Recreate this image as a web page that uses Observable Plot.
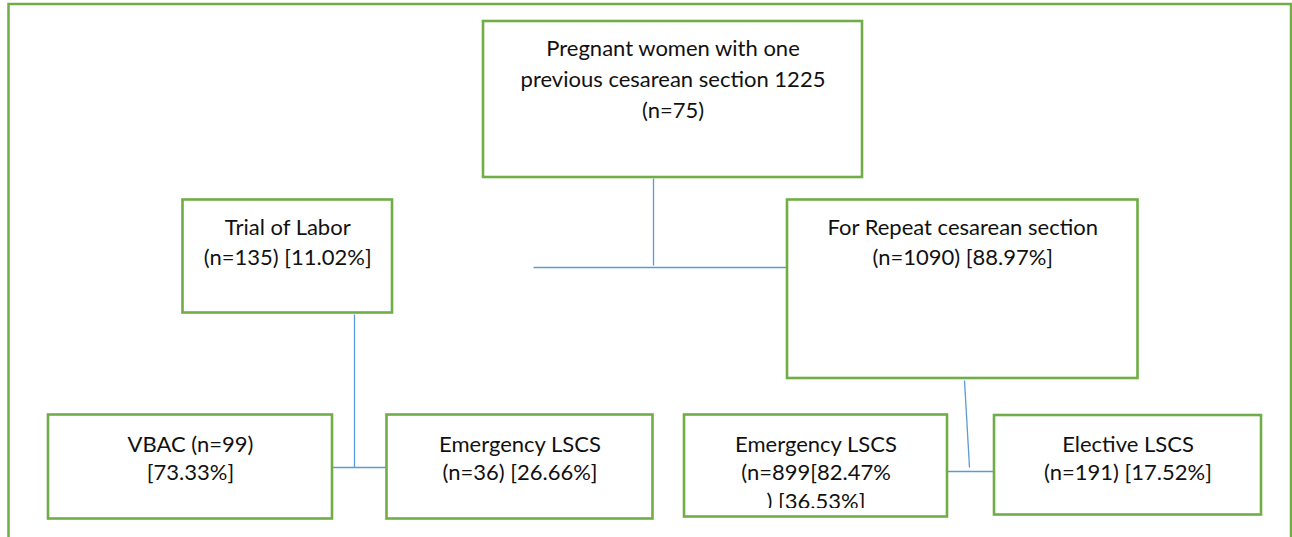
<!DOCTYPE html>
<html>
<head>
<meta charset="utf-8">
<script src="https://cdn.jsdelivr.net/npm/d3@7"></script>
<script src="https://cdn.jsdelivr.net/npm/@observablehq/plot@0.6"></script>
<style>
  html, body { margin: 0; padding: 0; background: #ffffff; }
  #chart svg { display: block; }
</style>
</head>
<body>
<div id="chart"></div>
<script>
// ---- Content (text of each node of the flow chart) ----
const nodeIds = ["root", "trial", "repeat", "vbac", "emergTrial", "emergRepeat", "elective"];
const nodeLines = [
  ["Pregnant women with one", "previous cesarean section 1225", "(n=75)"],
  ["Trial of Labor", "(n=135) [11.02%]"],
  ["For Repeat cesarean section", "(n=1090) [88.97%]"],
  ["VBAC (n=99)", "[73.33%]"],
  ["Emergency LSCS", "(n=36) [26.66%]"],
  ["Emergency LSCS", "(n=899[82.47%", ") [36.53%]"],
  ["Elective LSCS", "(n=191) [17.52%]"]
];
const edges = [["root", "trial"], ["root", "repeat"], ["trial", "vbac"], ["trial", "emergTrial"], ["repeat", "emergRepeat"], ["repeat", "elective"]];

// ---- Layout (diagram geometry, in page pixels) ----
const boxLayout = {
  root:        {x1: 483,   x2: 862,    y1: 21,    y2: 177,   textY: 48,  gap: 31},
  trial:       {x1: 182.5, x2: 392,    y1: 199.5, y2: 312.5, textY: 227, gap: 30},
  repeat:      {x1: 787,   x2: 1137.5, y1: 199.5, y2: 378,   textY: 227, gap: 30},
  vbac:        {x1: 48,    x2: 332,    y1: 414.5, y2: 518.5, textY: 444, gap: 28},
  emergTrial:  {x1: 386.5, x2: 652.5,  y1: 414.5, y2: 518.5, textY: 444, gap: 28},
  emergRepeat: {x1: 684,   x2: 947,    y1: 414.5, y2: 516.5, textY: 444, gap: 28.5},
  elective:    {x1: 994,   x2: 1261,   y1: 415,   y2: 514.5, textY: 444, gap: 28}
};
const connectorLayout = [
  {x1: 653, y1: 178, x2: 653, y2: 265},
  {x1: 533, y1: 267, x2: 787, y2: 267},
  {x1: 354, y1: 314, x2: 354, y2: 467},
  {x1: 332, y1: 467, x2: 386.5, y2: 467},
  {x1: 964, y1: 380, x2: 969, y2: 467},
  {x1: 947, y1: 471, x2: 994, y2: 471}
];
const frameLayout = [{x1: 8.5, x2: 1291, y1: 4, y2: 600}];

const W = 1292, H = 537;
const green = "#70AD47", blue = "#5B9BD5";

const boxes = nodeIds.map((id) => ({id, ...boxLayout[id]}));
const lines = nodeIds.flatMap((id, i) => nodeLines[i].map((t, j) => ({
  id, text: t,
  x: (boxLayout[id].x1 + boxLayout[id].x2) / 2,
  y: boxLayout[id].textY + j * boxLayout[id].gap
})));

const chart = Plot.plot({
  width: W,
  height: H,
  margin: 0,
  x: {domain: [0, W], range: [0, W], axis: null},
  y: {domain: [0, H], range: [0, H], axis: null},
  style: {background: "#ffffff", fontFamily: "Lato, 'Open Sans', sans-serif"},
  marks: [
    Plot.rect(frameLayout, {x1: "x1", x2: "x2", y1: "y1", y2: "y2", fill: "none", stroke: green, strokeWidth: 2.5}),
    Plot.link(connectorLayout, {x1: "x1", y1: "y1", x2: "x2", y2: "y2", stroke: blue, strokeWidth: 1.3}),
    Plot.rect(boxes, {x1: "x1", x2: "x2", y1: "y1", y2: "y2", fill: "#ffffff", stroke: green, strokeWidth: 2.6}),
    Plot.text(lines, {x: "x", y: "y", text: "text", fill: "#111111", fontSize: 22, textAnchor: "middle", lineAnchor: "middle"})
  ]
});
document.getElementById("chart").appendChild(chart);

// clip the overflowing third line of the "Emergency LSCS (n=899...)" box, as in the original
const svg = d3.select(chart);
const b = boxLayout.emergRepeat;
const clipRect = svg.append("defs").append("clipPath").attr("id", "clip-emerg").append("rect");
svg.selectAll("text").filter(function() { return this.textContent === ") [36.53%]"; })
  .each(function() {
    let tx = 0, ty = 0;
    const tl = this.transform && this.transform.baseVal;
    if (tl && tl.numberOfItems) { const m = tl.consolidate().matrix; tx = m.e; ty = m.f; }
    const ax = +this.getAttribute("x") || 0, ay = +this.getAttribute("y") || 0;
    clipRect.attr("x", b.x1 - tx).attr("y", b.y1 - ty)
      .attr("width", b.x2 - b.x1).attr("height", b.y2 - b.y1 - 9);
  })
  .attr("clip-path", "url(#clip-emerg)");
</script>
</body>
</html>
